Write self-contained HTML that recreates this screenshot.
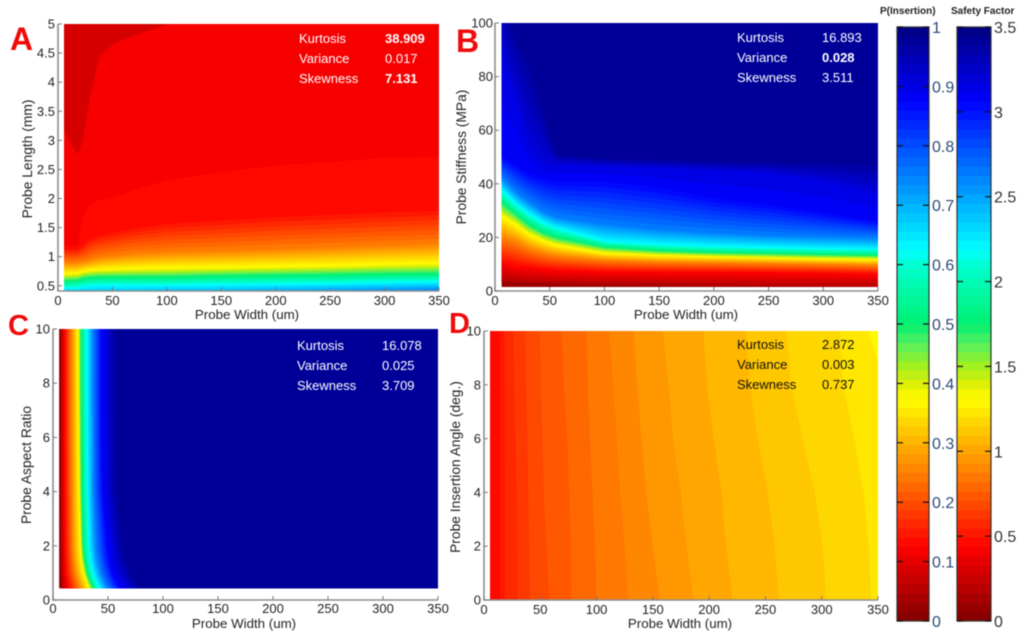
<!DOCTYPE html>
<html lang="en">
<head>
<meta charset="utf-8">
<title>Probe insertion contour plots</title>
<style>
html,body{margin:0;padding:0;background:#fff;width:1024px;height:642px;overflow:hidden}
svg{display:block;filter:blur(.4px)}
text{font-family:"Liberation Sans",Arial,sans-serif}
.tick{font-size:13px;fill:#222}
.title{font-size:13.3px;fill:#222;text-anchor:middle}
.ytitle{font-size:13.8px;fill:#222;text-anchor:middle}
.stat{font-size:13px;fill:#fff}
.statb{font-size:13px;fill:#fff;font-weight:bold}
.statk{font-size:13px;fill:#111}
.letter{font-size:32px;font-weight:bold;fill:#f00a0a}
.letter2{font-size:29px;font-weight:bold;fill:#f00a0a}
.cbt{font-size:10px;font-weight:bold;fill:#222}
</style>
</head>
<body>
<svg id="fig" xmlns="http://www.w3.org/2000/svg" width="1024" height="642" viewBox="0 0 1024 642">
  <defs id="defs"></defs>
  <g id="layer-panels"></g>
  <g id="layer-bars"></g>

  <text class="letter" x="10" y="50">A</text>
  <text class="letter" x="456" y="52">B</text>
  <text class="letter2" x="8" y="335">C</text>
  <text class="letter2" x="449" y="333">D</text>

  <text class="title" x="247" y="319">Probe Width (um)</text>
  <text class="title" x="686" y="319">Probe Width (um)</text>
  <text class="title" x="244" y="628">Probe Width (um)</text>
  <text class="title" x="680" y="628">Probe Width (um)</text>
  <text class="ytitle" transform="translate(32 159) rotate(-90)">Probe Length (mm)</text>
  <text class="ytitle" transform="translate(466 157) rotate(-90)">Probe Stiffness (MPa)</text>
  <text class="ytitle" transform="translate(31 465) rotate(-90)">Probe Aspect Ratio</text>
  <text class="ytitle" transform="translate(460 467) rotate(-90)">Probe Insertion Angle (deg.)</text>

  <g>
    <text class="stat" x="299" y="43">Kurtosis</text><text class="statb" x="385" y="43">38.909</text>
    <text class="stat" x="299" y="63">Variance</text><text class="stat" x="385" y="63">0.017</text>
    <text class="stat" x="299" y="83">Skewness</text><text class="statb" x="385" y="83">7.131</text>
  </g>
  <g>
    <text class="stat" x="737" y="42">Kurtosis</text><text class="stat" x="822" y="42">16.893</text>
    <text class="stat" x="737" y="62">Variance</text><text class="statb" x="822" y="62">0.028</text>
    <text class="stat" x="737" y="82">Skewness</text><text class="stat" x="822" y="82">3.511</text>
  </g>
  <g>
    <text class="stat" x="297" y="350">Kurtosis</text><text class="stat" x="382" y="350">16.078</text>
    <text class="stat" x="297" y="370">Variance</text><text class="stat" x="382" y="370">0.025</text>
    <text class="stat" x="297" y="390">Skewness</text><text class="stat" x="382" y="390">3.709</text>
  </g>
  <g>
    <text class="statk" x="737" y="349">Kurtosis</text><text class="statk" x="822" y="349">2.872</text>
    <text class="statk" x="737" y="369">Variance</text><text class="statk" x="822" y="369">0.003</text>
    <text class="statk" x="737" y="389">Skewness</text><text class="statk" x="822" y="389">0.737</text>
  </g>

  <text class="cbt" x="880" y="14">P(Insertion)</text>
  <text class="cbt" x="951" y="14">Safety Factor</text>
</svg>

<script>
// ---------- Shared tick labels ----------
const widthTicks = [0, 50, 100, 150, 200, 250, 300, 350];
const lengthTicks = [0.5, 1, 1.5, 2, 2.5, 3, 3.5, 4, 4.5, 5];
const stiffnessTicks = [0, 20, 40, 60, 80, 100];
const ratioTicks = [0, 2, 4, 6, 8, 10];
const angleTicks = [0, 2, 4, 6, 8, 10];
const pTicks = [0, 0.1, 0.2, 0.3, 0.4, 0.5, 0.6, 0.7, 0.8, 0.9, 1];
const sfTicks = [0, 0.5, 1, 1.5, 2, 2.5, 3, 3.5];

// ---------- Panel A: contour levels (colour value), probe widths, and probe length of each contour at those widths ----------
const levelsA = [0.09375, 0.109375, 0.125, 0.140625, 0.25, 0.375, 0.5, 0.625, 0.75];
const widthsA = [5, 18, 23, 29, 38, 52, 69, 99, 148, 200, 252, 300, 350];
const lengthsA = [
  [3.18, 2.75, 3.01, 3.70, 4.45, 4.68, 4.80, 4.99, 5.14, 5.19, 5.25, 5.31, 5.37],
  [3.17, 2.74, 3.00, 3.69, 4.44, 4.67, 4.79, 4.98, 5.13, 5.18, 5.24, 5.30, 5.36],
  [1.19, 1.19, 1.68, 1.88, 1.98, 2.02, 2.14, 2.31, 2.45, 2.57, 2.63, 2.70, 2.72],
  [1.13, 1.13, 1.19, 1.30, 1.36, 1.42, 1.48, 1.56, 1.62, 1.68, 1.72, 1.76, 1.79],
  [0.90, 0.90, 0.92, 0.94, 0.99, 1.02, 1.05, 1.08, 1.10, 1.13, 1.16, 1.19, 1.22],
  [0.70, 0.71, 0.74, 0.76, 0.77, 0.78, 0.79, 0.80, 0.81, 0.825, 0.84, 0.865, 0.88],
  [0.58, 0.59, 0.62, 0.64, 0.65, 0.65, 0.65, 0.65, 0.67, 0.68, 0.69, 0.70, 0.71],
  [0.46, 0.47, 0.49, 0.50, 0.51, 0.51, 0.51, 0.51, 0.52, 0.53, 0.54, 0.56, 0.57],
  [0.28, 0.28, 0.28, 0.28, 0.28, 0.28, 0.28, 0.32, 0.33, 0.36, 0.38, 0.40, 0.42]
];

// ---------- Panel B: contour levels, probe widths, and stiffness of each contour ----------
const levelsB = [0.03125, 0.0625, 0.125, 0.25, 0.375, 0.5, 0.625, 0.75, 0.875, 0.90625, 0.96875];
const widthsB = [5, 8, 20, 30, 44, 56, 100, 150, 200, 250, 300, 350];
const stiffnessB = [
  [3.1, 3.1, 2.85, 2.73, 2.6, 2.48, 2.1, 1.86, 1.61, 1.36, 1.12, 0.87],
  [4.96, 4.83, 4.34, 3.97, 3.72, 3.59, 3.35, 3.1, 2.85, 2.6, 2.35, 2.23],
  [10.4, 10.2, 9, 8.6, 8, 7.7, 7.1, 7, 6.9, 6.8, 6.57, 6.2],
  [20, 19.8, 18, 15.8, 14, 13, 11.4, 10.7, 10.5, 10.2, 9.9, 9.5],
  [28.4, 27.6, 24.6, 21.5, 18.8, 17.2, 14.2, 13.3, 12.8, 12.4, 12, 11.8],
  [33.4, 32.4, 28.4, 25, 21.8, 20, 16.4, 15, 14.3, 14, 13.6, 13.3],
  [37.7, 36.8, 32, 29, 25.5, 23.5, 18.5, 17.3, 16.5, 16.1, 15.7, 15.5],
  [42.7, 41.5, 36.5, 33.5, 29.5, 27.5, 24.8, 22.9, 21.7, 20.7, 20.2, 19.8],
  [50.2, 49.9, 46.5, 44, 42.1, 40.9, 40.9, 38.4, 34.7, 32.2, 29.1, 26],
  [100, 85, 71, 54, 47, 47, 46.5, 45.8, 45, 44, 41, 36],
  [125, 106, 91.1, 84.9, 66.3, 50.8, 49.2, 48.7, 48.1, 47.7, 47.3, 46.8]
];

// ---------- Panel C: contour levels, aspect ratios, and probe width of each contour ----------
const levelsC = [0.03125, 0.125, 0.25, 0.375, 0.5, 0.625, 0.75, 0.875, 0.96875];
const ratiosC = [10, 8, 6, 4, 2, 1.5, 1, 0.7, 0.43];
const widthsC = [
  [6.7, 6.7, 6.7, 6.7, 6.7, 6.8, 6.9, 7.1, 7.3],
  [10.6, 10.6, 10.6, 10.6, 10.9, 11.2, 11.5, 12.8, 14],
  [16.7, 16.7, 16.7, 17, 17.6, 18.2, 19.7, 21.9, 24.3],
  [22.8, 23.1, 23.4, 23.7, 24.9, 25.8, 27.9, 30.4, 32.8],
  [25.5, 25.5, 25.8, 26.1, 27.3, 28.5, 31, 33.4, 36.4],
  [30.7, 30.7, 31, 31.3, 32.5, 33.5, 36, 39, 42],
  [36.5, 36.5, 36.8, 37, 39, 40.5, 43.5, 46.5, 50],
  [44, 44, 44.3, 45, 49.5, 51, 54, 57, 61],
  [56.2, 56.5, 56.8, 57.1, 62.2, 64.4, 69.8, 74.4, 78.9]
];

// ---------- Panel D: contour levels, insertion angles, and probe width of each contour ----------
const levelsD = [0.140625, 0.15625, 0.171875, 0.1875, 0.203125, 0.21875, 0.234375, 0.25, 0.265625, 0.28125, 0.296875, 0.3125, 0.328125, 0.34375, 0.359375];
const anglesD = [10, 8, 6, 4, 2, 0];
const widthsD = [
  [14.2, 14.2, 14.2, 14.2, 14.2, 14.2],
  [18, 18.3, 18.3, 18.6, 18.6, 18.6],
  [26, 26.9, 28.1, 29, 29.6, 29.9],
  [36.4, 37.3, 38.5, 39.3, 40.2, 40.8],
  [49.7, 50.6, 51.8, 53, 55.6, 57.7],
  [68.9, 71, 74, 75.7, 77.2, 77.8],
  [91.1, 92.3, 94.1, 96.4, 98.5, 100],
  [111, 115, 118, 121, 125, 128],
  [133, 136, 140, 144, 150, 156],
  [159, 164, 168, 175, 180, 186],
  [195, 198, 204, 211, 215, 221],
  [233, 236, 243, 252, 258, 262],
  [269, 273, 283, 294, 301, 304],
  [316, 319, 329, 337, 342, 344],
  [341, 357, 370, 380, 390, 400]
];

const SVGNS = 'http://www.w3.org/2000/svg';
const BANDS = 64;
const colorStops = [
  [0, 128, 0, 0],
  [0.125, 255, 0, 0],
  [0.375, 255, 255, 0],
  [0.39, 240, 240, 0],
  [0.43, 160, 240, 32],
  [0.47, 80, 240, 96],
  [0.5, 0, 240, 112],
  [0.6, 0, 255, 208],
  [0.625, 0, 255, 255],
  [0.75, 0, 128, 255],
  [0.875, 0, 0, 255],
  [1, 0, 0, 128]
];

function make(tag, attrs, parent) {
  const node = document.createElementNS(SVGNS, tag);
  for (const key in attrs) node.setAttribute(key, attrs[key]);
  parent.appendChild(node);
  return node;
}
function linear(d0, d1, r0, r1) {
  return function (v) { return r0 + (v - d0) * (r1 - r0) / (d1 - d0); };
}
function colorAt(v) {
  for (let i = 0; i < colorStops.length - 1; i++) {
    const a = colorStops[i], b = colorStops[i + 1];
    if (v <= b[0]) {
      const t = Math.max(0, (v - a[0]) / (b[0] - a[0]));
      const mix = function (c) { return Math.round(a[c] + t * (b[c] - a[c])); };
      return 'rgb(' + mix(1) + ',' + mix(2) + ',' + mix(3) + ')';
    }
  }
  return 'rgb(0,0,128)';
}
function bandColor(k) { return colorAt((k + 0.5) / BANDS); }

function contourAt(levels, rows, level, j) {
  for (let i = 0; i < levels.length - 1; i++) {
    if (level <= levels[i + 1] + 1e-9) {
      const t = (level - levels[i]) / (levels[i + 1] - levels[i]);
      return rows[i][j] + t * (rows[i + 1][j] - rows[i][j]);
    }
  }
  return rows[rows.length - 1][j];
}

function drawPanel(p) {
  const root = document.getElementById('layer-panels');
  const g = make('g', {}, root);
  
  
  const sx = linear(0, 350, p.xPx[0], p.xPx[1]);
  const sy = linear(p.yDom[0], p.yDom[1], p.yPx[0], p.yPx[1]);

  const left = sx(p.plotX[0]), right = sx(p.plotX[1]);
  const top = sy(p.plotY[1]), bottom = sy(p.plotY[0]);

  const clip = make('clipPath', { id: 'clip-' + p.id }, document.getElementById('defs'));
  make('rect', { x: left, y: top, width: right - left, height: bottom - top }, clip);

  const field = make('g', { 'clip-path': 'url(#clip-' + p.id + ')' }, g);
  
  

  const kFirst = Math.ceil(p.levels[0] * BANDS - 1e-9);
  const kLast = Math.floor(p.levels[p.levels.length - 1] * BANDS + 1e-9);

  const base = make('rect', { x: left, y: top, width: right - left, height: bottom - top, fill: bandColor(kFirst - 1) }, field);
  
  

  for (let k = kFirst; k <= kLast; k++) {
    const level = k / BANDS;
    const pts = [];
    for (let j = 0; j < p.nodes.length; j++) {
      const pos = contourAt(p.levels, p.rows, level, j);
      if (p.sweep === 'x') pts.push([sx(p.nodes[j]), sy(pos)]);
      else pts.push([sx(pos), sy(p.nodes[j])]);
    }
    const first = pts[0], last = pts[pts.length - 1];
    let poly;
    if (p.sweep === 'x') {
      const edge = p.side === 'below' ? bottom + 30 : top - 30;
      poly = [[left - 30, first[1]]].concat(pts, [[right + 30, last[1]], [right + 30, edge], [left - 30, edge]]);
    } else {
      poly = [[first[0], top - 30]].concat(pts, [[last[0], bottom + 30], [right + 30, bottom + 30], [right + 30, top - 30]]);
    }
    const band = make('polygon', {
      points: poly.map(function (q) { return q[0].toFixed(2) + ',' + q[1].toFixed(2); }).join(' '),
      fill: bandColor(k)
    }, field);
    
    
  }

  const axisY = sy(p.yDom[0]);
  const axis = make('path', {
    d: 'M' + sx(0) + ' ' + p.yPx[1] + 'V' + p.yPx[0] + 'H' + sx(350),
    fill: 'none', stroke: '#8e8e8e', 'stroke-width': 1.6
  }, g);
  
  

  widthTicks.forEach(function (t) {
    const mark = make('line', { x1: sx(t), x2: sx(t), y1: axisY, y2: axisY - 4, stroke: '#777', 'stroke-width': 1 }, g);
    
    
    const label = make('text', { class: 'tick', x: sx(t), y: axisY + p.xLabelDy, 'text-anchor': 'middle' }, g);
    label.textContent = String(t);
    
    
  });
  p.yTicks.forEach(function (t) {
    const mark = make('line', { x1: sx(0), x2: sx(0) + 4, y1: sy(t), y2: sy(t), stroke: '#777', 'stroke-width': 1 }, g);
    
    
    const label = make('text', { class: 'tick', x: p.yLabelX, y: sy(t) + 4.5, 'text-anchor': 'end' }, g);
    label.textContent = String(t);
    
    
  });
}

function drawColorbar(b) {
  const root = document.getElementById('layer-bars');
  const g = make('g', {}, root);
  
  
  const sy = linear(0, b.max, 621, 27);
  for (let k = 0; k < BANDS; k++) {
    const v0 = (k / BANDS) * b.max;
    const v1 = ((k + 1) / BANDS) * b.max;
    const cell = make('rect', { x: b.x0, y: sy(v1), width: b.x1 - b.x0, height: sy(v0) - sy(v1) + 0.4, fill: bandColor(k) }, g);
    
    
  }
  const frame = make('rect', { x: b.x0, y: 27, width: b.x1 - b.x0, height: 594, fill: 'none', stroke: '#333', 'stroke-width': 1.2 }, g);
  
  
  b.ticks.forEach(function (t) {
    const tl = make('line', { x1: b.x0, x2: b.x0 + 6, y1: sy(t), y2: sy(t), stroke: '#111', 'stroke-width': 1.2 }, g);
    
    
    const tr = make('line', { x1: b.x1 - 6, x2: b.x1, y1: sy(t), y2: sy(t), stroke: '#111', 'stroke-width': 1.2 }, g);
    
    
    const label = make('text', { x: b.x1 + 3, y: sy(t) + 6, 'font-size': 16, fill: b.color }, g);
    label.textContent = String(t);
    
    
  });
}

drawPanel({ id: 'a', sweep: 'x', side: 'below', levels: levelsA, nodes: widthsA, rows: lengthsA,
  xPx: [58, 439], yDom: [0.41, 5], yPx: [291, 24], plotX: [5.5, 350], plotY: [0.41, 5],
  yTicks: lengthTicks, yLabelX: 55, xLabelDy: 14 });
drawPanel({ id: 'b', sweep: 'x', side: 'above', levels: levelsB, nodes: widthsB, rows: stiffnessB,
  xPx: [495, 878], yDom: [0, 100], yPx: [291, 23], plotX: [6, 350], plotY: [1.5, 100],
  yTicks: stiffnessTicks, yLabelX: 493, xLabelDy: 14 });
drawPanel({ id: 'c', sweep: 'y', side: 'right', levels: levelsC, nodes: ratiosC, rows: widthsC,
  xPx: [53, 438], yDom: [0, 10], yPx: [600, 329], plotX: [5.5, 350], plotY: [0.43, 10],
  yTicks: ratioTicks, yLabelX: 50, xLabelDy: 13 });
drawPanel({ id: 'd', sweep: 'y', side: 'right', levels: levelsD, nodes: anglesD, rows: widthsD,
  xPx: [484, 878], yDom: [0, 10], yPx: [600, 331], plotX: [5.3, 350], plotY: [0, 10],
  yTicks: angleTicks, yLabelX: 481, xLabelDy: 14 });

drawColorbar({ id: 'p-insertion', x0: 897, x1: 929, max: 1, ticks: pTicks, color: '#2c4a78' });
drawColorbar({ id: 'safety-factor', x0: 957, x1: 991, max: 3.5, ticks: sfTicks, color: '#333' });
</script>
</body>
</html>
